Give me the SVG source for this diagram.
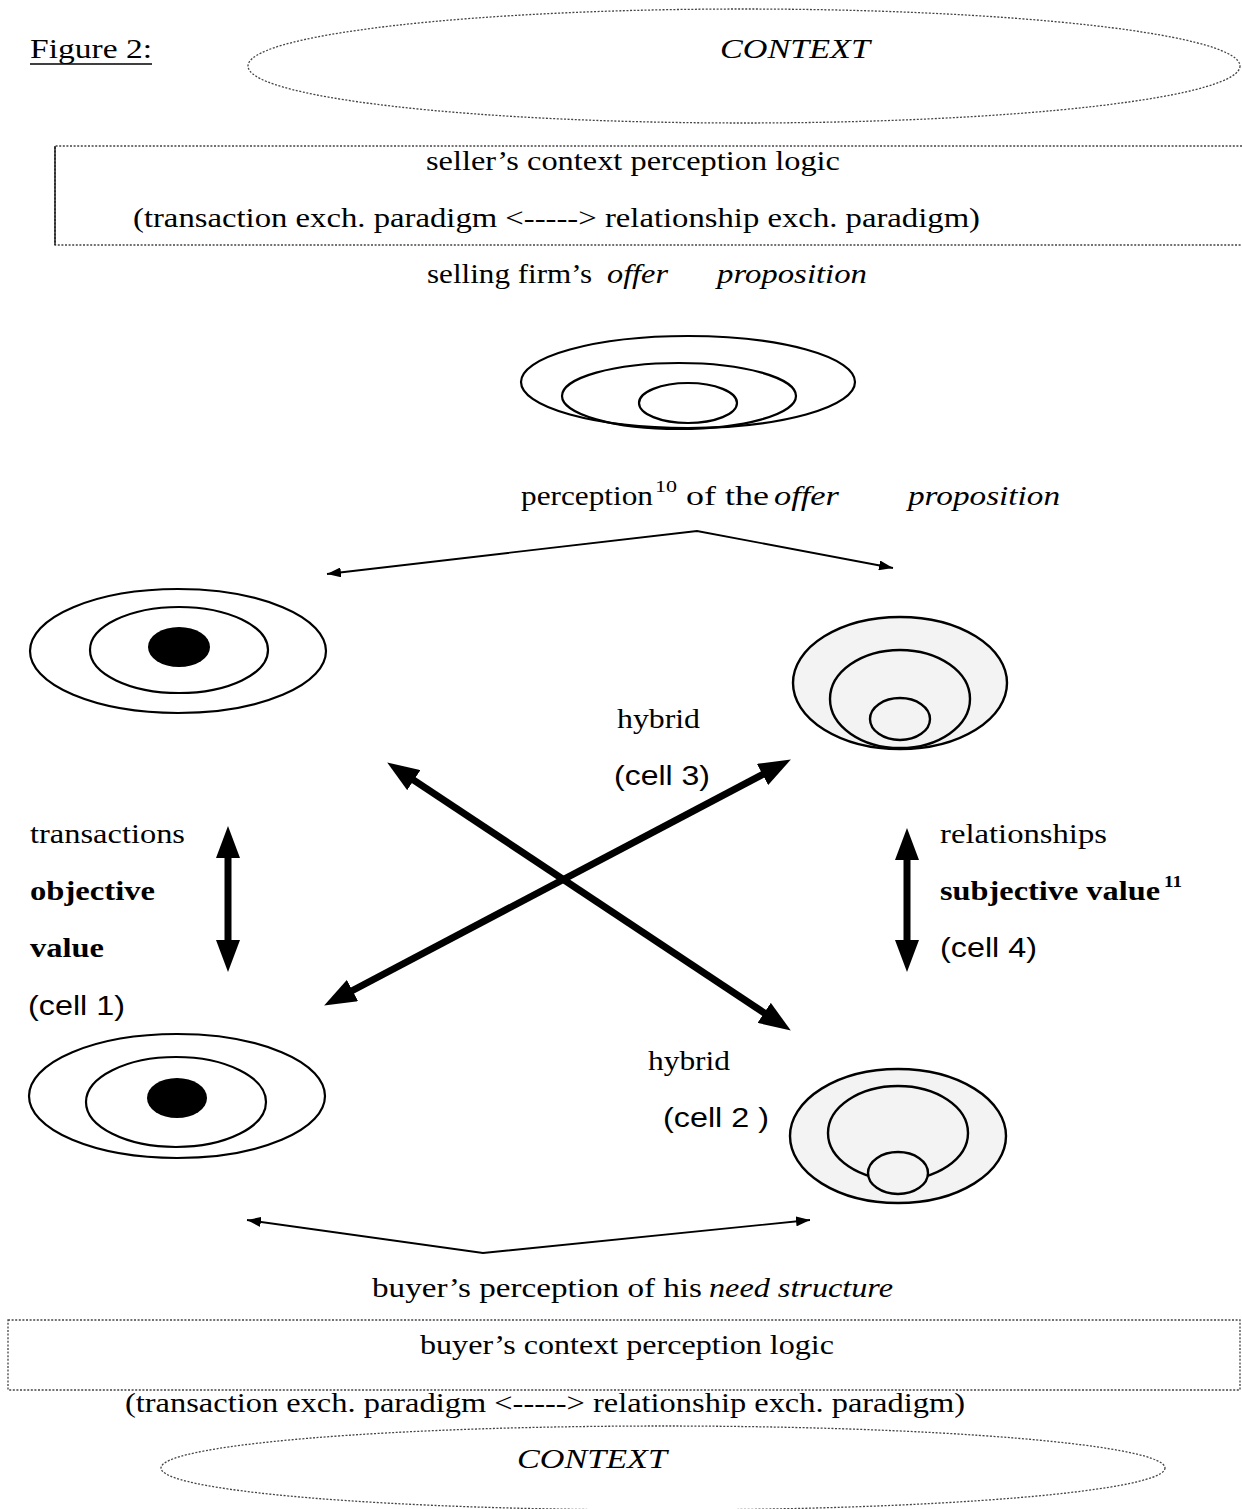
<svg xmlns="http://www.w3.org/2000/svg" width="1242" height="1509" viewBox="0 0 1242 1509">
<style>
.s{font-family:"Liberation Serif","Times New Roman",serif;fill:#000}
.a{font-family:"Liberation Sans",Arial,sans-serif;fill:#000}
.i{font-style:italic}
.b{font-weight:bold}
.dot{fill:none;stroke:#444;stroke-width:1.3;stroke-dasharray:2 1.6}
.el{fill:none;stroke:#000;stroke-width:2.2}
.sh{fill:#f3f3f3;stroke:#000;stroke-width:2.4}
.thin{fill:none;stroke:#000;stroke-width:1.8}
.thick{fill:none;stroke:#000;stroke-width:7}
</style>
<defs>
<marker id="sm" viewBox="0 0 14 10" refX="14" refY="5" markerWidth="14" markerHeight="10" markerUnits="userSpaceOnUse" orient="auto-start-reverse"><path d="M0,0 L14,5 L0,10 z" fill="#000"/></marker>
<marker id="bg" viewBox="0 0 32 24" refX="16" refY="12" markerWidth="32" markerHeight="24" markerUnits="userSpaceOnUse" orient="auto-start-reverse"><path d="M0,0 L32,12 L0,24 z" fill="#000"/></marker>
</defs>
<rect width="1242" height="1509" fill="#fff"/>

<g id="title">
<text class="s" x="30" y="58" font-size="28" textLength="122" lengthAdjust="spacingAndGlyphs">Figure 2:</text>
<line x1="30" y1="64" x2="152" y2="64" stroke="#000" stroke-width="1.5"/>
</g>

<g id="context-top">
<ellipse class="dot" cx="744" cy="66" rx="496" ry="57"/>
<text class="s i" x="795" y="58" font-size="28" text-anchor="middle" textLength="150" lengthAdjust="spacingAndGlyphs">CONTEXT</text>
</g>

<g id="seller-box">
<path class="dot" d="M1242,146 H55 V245 H1242"/>
<line x1="55" y1="146" x2="55" y2="245" stroke="#000" stroke-width="1.3"/>
<text class="s" x="633" y="170" font-size="28" text-anchor="middle" textLength="414" lengthAdjust="spacingAndGlyphs">seller’s context perception logic</text>
<text class="s" x="133" y="227" font-size="28" textLength="847" lengthAdjust="spacingAndGlyphs">(transaction exch. paradigm &lt;-----&gt; relationship exch.  paradigm)</text>
</g>

<g id="offer-label">
<text class="s" x="427" y="283" font-size="28" textLength="165" lengthAdjust="spacingAndGlyphs">selling firm’s</text>
<text class="s i" x="607" y="283" font-size="28" textLength="61" lengthAdjust="spacingAndGlyphs">offer</text>
<text class="s i" x="717" y="283" font-size="28" textLength="150" lengthAdjust="spacingAndGlyphs">proposition</text>
</g>

<g id="offer-ellipses">
<ellipse class="el" cx="688" cy="382" rx="167" ry="46"/>
<ellipse class="el" cx="679" cy="396" rx="117" ry="33"/>
<ellipse class="el" cx="688" cy="403" rx="49" ry="20"/>
</g>

<g id="perception-label">
<text class="s" x="521" y="505" font-size="28" textLength="132" lengthAdjust="spacingAndGlyphs">perception</text>
<text class="s" x="655" y="492" font-size="17" textLength="22" lengthAdjust="spacingAndGlyphs">10</text>
<text class="s" x="686" y="505" font-size="28" textLength="83" lengthAdjust="spacingAndGlyphs">of  the</text>
<text class="s i" x="774" y="505" font-size="28" textLength="65" lengthAdjust="spacingAndGlyphs">offer</text>
<text class="s i" x="908" y="505" font-size="28" textLength="152" lengthAdjust="spacingAndGlyphs">proposition</text>
</g>

<g id="cell1-top">
<ellipse class="el" cx="178" cy="651" rx="148" ry="62"/>
<ellipse class="el" cx="179" cy="650" rx="89" ry="43"/>
<ellipse cx="179" cy="647" rx="31" ry="20" fill="#000"/>
</g>

<g id="cell4-top">
<ellipse class="sh" cx="900" cy="683" rx="107" ry="66"/>
<ellipse class="sh" cx="900" cy="699" rx="70" ry="49"/>
<ellipse class="sh" cx="900" cy="719" rx="30" ry="21"/>
</g>

<g id="cell3-label">
<text class="s" x="617" y="728" font-size="28" textLength="83" lengthAdjust="spacingAndGlyphs">hybrid</text>
<text class="a" x="614" y="785" font-size="28" textLength="96" lengthAdjust="spacingAndGlyphs">(cell 3)</text>
</g>

<g id="cell1-label">
<text class="s" x="30" y="843" font-size="27" textLength="155" lengthAdjust="spacingAndGlyphs">transactions</text>
<text class="s b" x="30" y="900" font-size="27" textLength="125" lengthAdjust="spacingAndGlyphs">objective</text>
<text class="s b" x="30" y="957" font-size="27" textLength="74" lengthAdjust="spacingAndGlyphs">value</text>
<text class="a" x="28" y="1015" font-size="28" textLength="97" lengthAdjust="spacingAndGlyphs">(cell 1)</text>
</g>

<g id="cell4-label">
<text class="s" x="940" y="843" font-size="27" textLength="167" lengthAdjust="spacingAndGlyphs">relationships</text>
<text class="s b" x="940" y="900" font-size="27" textLength="220" lengthAdjust="spacingAndGlyphs">subjective value</text>
<text class="s b" x="1164" y="887" font-size="16" textLength="18" lengthAdjust="spacingAndGlyphs">11</text>
<text class="a" x="940" y="957" font-size="28" textLength="97" lengthAdjust="spacingAndGlyphs">(cell 4)</text>
</g>

<g id="cell2-label">
<text class="s" x="648" y="1070" font-size="28" textLength="82" lengthAdjust="spacingAndGlyphs">hybrid</text>
<text class="a" x="663" y="1127" font-size="28" textLength="106" lengthAdjust="spacingAndGlyphs">(cell 2 )</text>
</g>

<g id="cell1-bottom">
<ellipse class="el" cx="177" cy="1096" rx="148" ry="62"/>
<ellipse class="el" cx="176" cy="1102" rx="90" ry="45"/>
<ellipse cx="177" cy="1098" rx="30" ry="20" fill="#000"/>
</g>

<g id="cell2-bottom">
<ellipse class="sh" cx="898" cy="1136" rx="108" ry="67"/>
<ellipse class="sh" cx="898" cy="1133" rx="70" ry="47"/>
<ellipse class="sh" cx="898" cy="1173" rx="30" ry="21"/>
</g>

<g id="connectors">
<polyline class="thin" points="327,574 697,531 893,568" marker-start="url(#sm)" marker-end="url(#sm)"/>
<polyline class="thin" points="247,1220 483,1253 810,1220" marker-start="url(#sm)" marker-end="url(#sm)"/>
<line class="thick" x1="400.5" y1="771.3" x2="777.5" y2="1021.7" marker-start="url(#bg)" marker-end="url(#bg)"/>
<line class="thick" x1="776.7" y1="767" x2="338.3" y2="998" marker-start="url(#bg)" marker-end="url(#bg)"/>
<line class="thick" x1="228" y1="842" x2="228" y2="956" marker-start="url(#bg)" marker-end="url(#bg)"/>
<line class="thick" x1="907" y1="844" x2="907" y2="956" marker-start="url(#bg)" marker-end="url(#bg)"/>
</g>

<g id="need-label">
<text class="s" x="372" y="1297" font-size="28" textLength="330" lengthAdjust="spacingAndGlyphs">buyer’s perception of  his</text>
<text class="s i" x="709" y="1297" font-size="28" textLength="184" lengthAdjust="spacingAndGlyphs">need structure</text>
</g>

<g id="buyer-box">
<rect class="dot" x="8" y="1320" width="1232" height="70"/>
<text class="s" x="627" y="1354" font-size="28" text-anchor="middle" textLength="414" lengthAdjust="spacingAndGlyphs">buyer’s context perception logic</text>
<text class="s" x="125" y="1412" font-size="28" textLength="840" lengthAdjust="spacingAndGlyphs">(transaction exch. paradigm &lt;-----&gt; relationship exch. paradigm)</text>
</g>

<g id="context-bottom">
<ellipse class="dot" cx="663" cy="1468" rx="502" ry="42"/>
<text class="s i" x="592" y="1468" font-size="28" text-anchor="middle" textLength="150" lengthAdjust="spacingAndGlyphs">CONTEXT</text>
</g>
</svg>
